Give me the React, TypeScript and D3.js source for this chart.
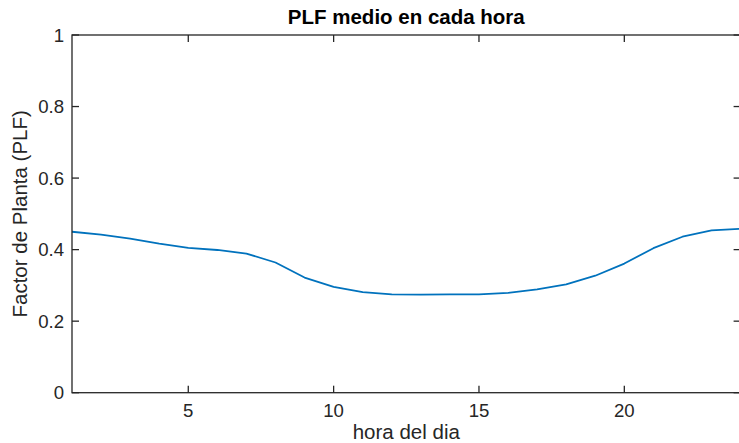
import React from "react";
import * as d3 from "d3";

const hours = [1,2,3,4,5,6,7,8,9,10,11,12,13,14,15,16,17,18,19,20,21,22,23,24];
const plf = [0.450,0.442,0.431,0.417,0.405,0.399,0.389,0.364,0.322,0.296,0.281,0.275,0.274,0.275,0.275,0.279,0.289,0.303,0.327,0.361,0.404,0.436,0.454,0.458];
const xTicks = [5,10,15,20];
const yTicks = [0,0.2,0.4,0.6,0.8,1];
const yTickLabels = ["0","0.2","0.4","0.6","0.8","1"];
const title = "PLF medio en cada hora";
const xLabel = "hora del dia";
const yLabel = "Factor de Planta (PLF)";

const W = 739, H = 443;
const left = 72, right = 740.6, top = 35, bottom = 392.7;
const axisColor = "#262626";
const font = "'Liberation Sans', Arial, Helvetica, sans-serif";

export default function App() {
  const x = d3.scaleLinear().domain([1, 24]).range([left, right]);
  const y = d3.scaleLinear().domain([0, 1]).range([bottom, top]);
  const line = d3.line<number>().x((_, i) => x(hours[i])).y((d) => y(d));
  const tl = 7;
  return (
    <svg width={W} height={H} style={{ position: "absolute", left: 0, top: 0, background: "#fff" }}>
      <rect x={0} y={0} width={W} height={H} fill="#fff" />
      <path d={line(plf) || ""} fill="none" stroke="#0072BD" strokeWidth={1.8} strokeLinejoin="round" />
      {/* box */}
      <rect x={left} y={top} width={right - left} height={bottom - top} fill="none" stroke={axisColor} strokeWidth={1.3} />
      {xTicks.map((t) => (
        <g key={"x" + t}>
          <line x1={x(t)} x2={x(t)} y1={bottom} y2={bottom - tl} stroke={axisColor} strokeWidth={1.3} />
          <line x1={x(t)} x2={x(t)} y1={top} y2={top + tl} stroke={axisColor} strokeWidth={1.3} />
          <text x={x(t)} y={416.5} textAnchor="middle" fontSize={18.6} fontFamily={font} fill={axisColor}>{t}</text>
        </g>
      ))}
      {yTicks.map((t, i) => (
        <g key={"y" + t}>
          <line x1={left} x2={left + tl} y1={y(t)} y2={y(t)} stroke={axisColor} strokeWidth={1.3} />
          <line x1={right} x2={right - tl} y1={y(t)} y2={y(t)} stroke={axisColor} strokeWidth={1.3} />
          <text x={64} y={y(t)} dy="0.35em" textAnchor="end" fontSize={18.6} fontFamily={font} fill={axisColor}>{yTickLabels[i]}</text>
        </g>
      ))}
      <text x={(left + right) / 2} y={24} textAnchor="middle" fontSize={20.5} fontWeight="bold" fontFamily={font} fill="#000">{title}</text>
      <text x={(left + right) / 2} y={439} textAnchor="middle" fontSize={20.5} fontFamily={font} fill={axisColor}>{xLabel}</text>
      <text transform={`translate(27,${(top + bottom) / 2}) rotate(-90)`} textAnchor="middle" fontSize={20.5} fontFamily={font} fill={axisColor}>{yLabel}</text>
    </svg>
  );
}
